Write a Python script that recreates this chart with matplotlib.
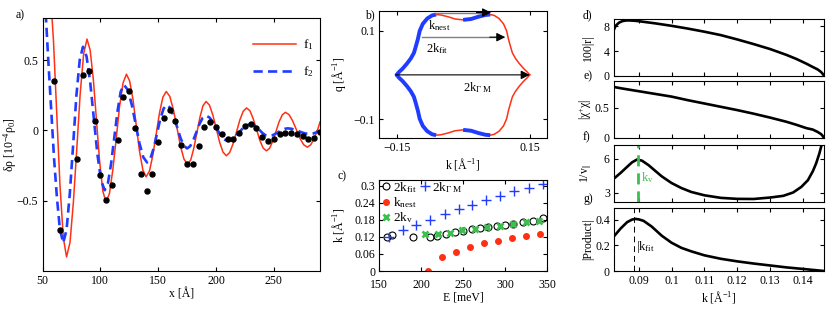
import matplotlib
matplotlib.use('Agg')
import matplotlib.pyplot as plt
from matplotlib.lines import Line2D

plt.rcParams['font.family'] = ['Liberation Serif', 'DejaVu Serif']
plt.rcParams['mathtext.fontset'] = 'custom'
plt.rcParams['mathtext.rm'] = 'Liberation Serif'
plt.rcParams['mathtext.it'] = 'Liberation Serif:italic'
plt.rcParams['font.size'] = 8.5
plt.rcParams['xtick.direction'] = 'in'
plt.rcParams['ytick.direction'] = 'in'
plt.rcParams['xtick.top'] = True
plt.rcParams['ytick.right'] = True
plt.rcParams['xtick.major.size'] = 3
plt.rcParams['ytick.major.size'] = 3
plt.rcParams['xtick.major.pad'] = 3
plt.rcParams['ytick.major.pad'] = 3
plt.rcParams['axes.linewidth'] = 0.8

RED = '#ff3014'
BLUE = '#1f3cff'
GREEN = '#3cbf4f'

# ---- a) density oscillations
red_x = [50.0, 53.8, 56.6, 59.5, 62.3, 65.1, 68.0,
         70.8, 73.8, 76.7, 79.7, 82.6, 85.6,
         88.5, 91.2, 94.0, 96.7, 99.4, 102.2,
         104.9, 107.9, 110.8, 113.8, 116.7, 119.7,
         122.6, 125.4, 128.3, 131.1, 133.9, 136.8,
         139.6, 142.5, 145.4, 148.3, 151.2, 154.1,
         157.0, 160.1, 163.2, 166.3, 169.3, 172.4,
         175.5, 178.2, 180.8, 183.5, 186.2, 188.8,
         191.5, 194.4, 197.3, 200.3, 203.2, 206.1,
         209.0, 211.9, 214.8, 217.8, 220.7, 223.6,
         226.5, 229.4, 232.2, 235.1, 237.9, 240.8,
         243.6, 246.4, 249.1, 251.9, 254.6, 257.4,
         260.1, 263.3, 266.4, 269.6, 272.7, 275.9,
         279.0, 282.0, 285.0, 288.0, 290.0]
red_y = [0.90, 1.15, 1.013, 0.637, 0.125, -0.388, -0.763,
         -0.90, -0.796, -0.512, -0.125, 0.263, 0.546,
         0.65, 0.572, 0.36, 0.07, -0.22, -0.432,
         -0.51, -0.449, -0.282, -0.055, 0.173, 0.339,
         0.40, 0.351, 0.218, 0.035, -0.148, -0.281,
         -0.33, -0.289, -0.178, -0.027, 0.125, 0.236,
         0.277, 0.242, 0.148, 0.019, -0.111, -0.205,
         -0.24, -0.21, -0.129, -0.017, 0.095, 0.176,
         0.206, 0.18, 0.11, 0.013, -0.084, -0.154,
         -0.18, -0.157, -0.095, -0.01, 0.075, 0.137,
         0.16, 0.14, 0.084, 0.008, -0.069, -0.125,
         -0.145, -0.127, -0.077, -0.008, 0.061, 0.111,
         0.129, 0.112, 0.067, 0.005, -0.057, -0.102,
         -0.119, -0.102, -0.056, 0.006, 0.06]
blue_x = [50.0, 53.0, 55.0, 57.5, 60.0, 62.5, 65.0,
          67.9, 70.8, 73.6, 76.5, 79.3, 82.2,
          85.0, 88.1, 91.3, 94.4, 97.5, 100.7,
          103.8, 106.6, 109.3, 112.1, 114.9, 117.6,
          120.4, 123.8, 127.1, 130.5, 133.8, 137.2,
          140.5, 143.3, 146.2, 149.0, 151.8, 154.7,
          157.5, 160.4, 163.3, 166.3, 169.2, 172.1,
          175.0, 177.7, 180.4, 183.1, 185.8, 188.5,
          191.2, 194.3, 197.5, 200.6, 203.7, 206.9,
          210.0, 213.3, 216.6, 219.9, 223.2, 226.5,
          229.8, 232.4, 235.0, 237.7, 240.3, 242.9,
          245.5, 248.3, 251.0, 253.8, 256.5, 259.3,
          262.0, 265.2, 268.3, 271.5, 274.7, 277.8,
          281.0, 284.0, 287.0, 290.0]
blue_y = [0.95, 0.80, 0.50, 0.15, -0.20, -0.48, -0.70,
          -0.80, -0.707, -0.451, -0.103, 0.246, 0.502,
          0.595, 0.527, 0.34, 0.085, -0.17, -0.357,
          -0.425, -0.375, -0.238, -0.05, 0.138, 0.275,
          0.325, 0.288, 0.187, 0.049, -0.09, -0.191,
          -0.228, -0.2, -0.126, -0.023, 0.08, 0.155,
          0.182, 0.161, 0.105, 0.027, -0.05, -0.107,
          -0.128, -0.112, -0.07, -0.012, 0.047, 0.089,
          0.105, 0.093, 0.06, 0.015, -0.03, -0.063,
          -0.075, -0.067, -0.045, -0.015, 0.015, 0.037,
          0.045, 0.039, 0.024, 0.003, -0.019, -0.034,
          -0.04, -0.036, -0.026, -0.013, 0.001, 0.011,
          0.015, 0.012, 0.005, -0.005, -0.015, -0.022,
          -0.025, -0.022, -0.013, -0.003]
dot_x = [60, 65, 80, 85, 90, 95, 100, 105, 110, 115, 120, 125, 130, 135,
         140, 145, 150, 155, 160, 165, 170, 175, 180, 185, 190, 195, 200,
         205, 210, 215, 220, 225, 230, 235, 240, 245, 250, 255, 260, 265,
         270, 275, 280, 285, 290]
dot_y = [0.349, -0.707, -0.2, 0.396, 0.424, 0.069, -0.315, -0.498, -0.391,
         -0.071, 0.237, 0.282, 0.017, -0.308, -0.434, -0.308, -0.081, 0.092,
         0.145, 0.064, -0.107, -0.242, -0.242, -0.112, 0.021, 0.06, 0.028,
         -0.026, -0.059, -0.059, -0.019, 0.033, 0.048, 0.017, -0.05, -0.078,
         -0.059, -0.023, -0.019, -0.019, -0.023, -0.038, -0.059, -0.055, -0.012]

# ---- b) Fermi contour, first quadrant (k, q) in 1/A
fs_k = [0.150, 0.144, 0.137, 0.127, 0.118, 0.111, 0.107, 0.102, 0.098,
        0.091, 0.081, 0.070, 0.061, 0.050, 0.034, 0.018, 0.0]
fs_q = [0.0, 0.007, 0.0135, 0.025, 0.037, 0.0495, 0.063, 0.081, 0.099,
        0.115, 0.127, 0.134, 0.136, 0.135, 0.131, 0.126, 0.124]
corner = 12  # index of the rounded corner between side and flat edge

# ---- c) wave vectors vs energy
E_fit = [159, 165, 190, 210, 219, 229, 240, 250, 260, 270, 280, 290, 300,
         310, 321, 333, 345]
k_fit = [0.12, 0.125, 0.12, 0.118, 0.122, 0.13, 0.137, 0.142, 0.146, 0.151,
         0.155, 0.16, 0.163, 0.167, 0.171, 0.176, 0.185]
E_nest = [208, 225, 241.5, 258, 275, 291.5, 308, 325, 342]
k_nest = [0.0, 0.048, 0.068, 0.083, 0.097, 0.105, 0.115, 0.122, 0.13]
E_v = [204, 220, 234, 249, 264, 279, 294, 309, 325, 340]
k_v = [0.13, 0.13, 0.135, 0.143, 0.148, 0.153, 0.16, 0.165, 0.172, 0.177]
E_gm = [161, 178, 194, 211, 228, 245, 261, 277, 294, 311, 328, 345]
k_gm = [0.12, 0.145, 0.163, 0.18, 0.20, 0.217, 0.233, 0.25, 0.265, 0.28,
        0.293, 0.305]

# ---- d)-g) quantities vs k
k_d = [0.0825, 0.0830, 0.0840, 0.0850, 0.0860, 0.0870, 0.0885, 0.090, 0.095,
       0.100, 0.105, 0.110, 0.115, 0.120, 0.125, 0.130, 0.135, 0.138, 0.141,
       0.143, 0.1445, 0.1455, 0.1460, 0.1464]
r_d = [7.5, 8.1, 8.6, 8.85, 8.95, 8.97, 8.93, 8.85, 8.5, 8.1, 7.65, 7.15, 6.6,
       5.9, 5.15, 4.35, 3.4, 2.75, 2.0, 1.45, 1.05, 0.65, 0.35, 0.05]
k_e = [0.0825, 0.085, 0.090, 0.095, 0.100, 0.105, 0.110, 0.115, 0.120, 0.125,
       0.130, 0.135, 0.138, 0.141, 0.143, 0.1445, 0.1455, 0.146, 0.1464]
chi_e = [0.85, 0.825, 0.78, 0.735, 0.69, 0.63, 0.575, 0.52, 0.465, 0.405,
         0.34, 0.27, 0.22, 0.165, 0.14, 0.10, 0.065, 0.035, 0.0]
k_f = [0.0825, 0.0845, 0.0865, 0.088, 0.0895, 0.091, 0.093, 0.095, 0.097,
       0.100, 0.103, 0.106, 0.110, 0.115, 0.120, 0.125, 0.130, 0.134, 0.137,
       0.1395, 0.1415, 0.143, 0.144, 0.145, 0.1458]
inv_v = [4.25, 4.75, 5.3, 5.7, 5.95, 5.85, 5.45, 4.95, 4.45, 3.85, 3.4, 3.05,
         2.75, 2.52, 2.43, 2.42, 2.55, 2.7, 3.0, 3.5, 4.1, 4.9, 5.6, 6.5, 7.4]
k_g = [0.0825, 0.0845, 0.0865, 0.088, 0.089, 0.090, 0.0915, 0.094, 0.097,
       0.100, 0.103, 0.106, 0.110, 0.115, 0.120, 0.125, 0.130, 0.135, 0.140,
       0.1464]
prod_g = [0.27, 0.33, 0.38, 0.40, 0.405, 0.402, 0.39, 0.345, 0.275, 0.22, 0.18,
          0.153, 0.122, 0.095, 0.075, 0.058, 0.043, 0.028, 0.016, 0.0]
kv_line = 0.0899
kfit_line = 0.0887

W, H = 830, 312
fig = plt.figure(figsize=(W / 100, H / 100), dpi=100)


def box(l, t, r, b):
    return fig.add_axes([l / W, 1 - b / H, (r - l) / W, (b - t) / H])


# a)
ax = box(42.5, 18, 320, 271)
ax.plot(red_x, red_y, color=RED, lw=1.1, label='f$_1$')
ax.plot(blue_x, blue_y, color=BLUE, lw=1.9, dashes=(3.5, 2), label='f$_2$')
ax.plot(dot_x, dot_y, 'o', color='k', ms=3.6)
ax.set_xlim(50, 290)
ax.set_ylim(-1.0, 0.8)
ax.set_xticks([50, 100, 150, 200, 250])
ax.set_yticks([-0.5, 0, 0.5])
ax.set_yticklabels(['\u22120.5', '0', '0.5'])
ax.set_xlabel('x [Å]', labelpad=1)
ax.set_ylabel('δρ [10$^{-4}$ρ$_0$]')
ax.yaxis.set_label_coords(-0.083, 0.5)
ax.legend(loc='upper right', bbox_to_anchor=(1.02, 0.97), frameon=False,
          handlelength=3.3, handletextpad=0.5, labelspacing=0.9, fontsize=9.5)
fig.text(16 / W, 1 - 15 / H, 'a)', va='center')

# b)
ax = box(379.3, 11, 547, 138.3)
quad_k = fs_k + [-k for k in fs_k[::-1]]
quad_q = fs_q + fs_q[::-1]
ring_k = quad_k + quad_k[::-1]
ring_q = quad_q + [-q for q in quad_q[::-1]]
ax.plot(ring_k, ring_q, color=RED, lw=1.1)
# thick blue parts: whole left side, right halves of the flat edges
left_k = [-fs_k[i] for i in range(corner, -1, -1)] + \
         [-fs_k[i] for i in range(1, corner + 1)]
left_q = [fs_q[i] for i in range(corner, -1, -1)] + \
         [-fs_q[i] for i in range(1, corner + 1)]
ax.plot(left_k, left_q, color=BLUE, lw=2.8, solid_capstyle='butt')
ax.plot(fs_k[corner:], fs_q[corner:], color=BLUE, lw=2.8,
        solid_capstyle='butt')
ax.plot(fs_k[corner:], [-q for q in fs_q[corner:]], color=BLUE, lw=2.8,
        solid_capstyle='butt')
# arrows
arr = dict(arrowstyle='-|>', color='k', lw=0.8, mutation_scale=13,
           shrinkA=0, shrinkB=0)
ax.plot([-0.063, 0.045], [0.1405, 0.1405], color='0.5', lw=1.0)
ax.annotate('', xy=(0.063, 0.1405), xytext=(0.03, 0.1405), arrowprops=arr)
ax.plot([-0.093, 0.077], [0.085, 0.085], color='0.5', lw=1.0)
ax.annotate('', xy=(0.095, 0.085), xytext=(0.06, 0.085), arrowprops=arr)
ax.annotate('', xy=(0.150, 0.0), xytext=(-0.152, 0.0), arrowprops=arr)
ax.text(-0.079, 0.112, 'k$_{\\mathrm{nest}}$', va='center', ha='left', fontsize=9)
ax.text(-0.083, 0.060, '2k$_{\\mathrm{fit}}$', va='center', ha='left', fontsize=9)
ax.text(-0.001, -0.029, '2k$_{\\mathrm{Γ\\ M}}$', va='center', ha='left', fontsize=9)
ax.set_xlim(-0.189, 0.189)
ax.set_ylim(-0.143, 0.144)
ax.set_xticks([-0.15, 0.15])
ax.set_xticklabels(['\u22120.15', '0.15'])
ax.set_yticks([-0.1, 0.1])
ax.set_yticklabels(['\u22120.1', '0.1'])
ax.set_xlabel('k [Å$^{-1}$]', labelpad=1)
ax.set_ylabel('q [Å$^{-1}$]')
ax.yaxis.set_label_coords(-0.187, 0.5)
fig.text(365 / W, 1 - 15 / H, 'b)', va='center')

# c)
ax = box(379.3, 180, 547, 271)
ax.plot(E_fit, k_fit, 'o', mfc='none', mec='k', ms=5, mew=0.8,
        label='2k$_{\\mathrm{fit}}$')
ax.plot(E_nest, k_nest, 'o', color=RED, ms=4, label='k$_{\\mathrm{nest}}$')
ax.plot(E_v, k_v, 'x', color=GREEN, ms=5, mew=2.0, label='2k$_{\\mathrm{v}}$')
ax.plot(E_gm, k_gm, '+', color=BLUE, ms=7, mew=1.0,
        label='2k$_{\\mathrm{Γ\\ M}}$')
h, l = ax.get_legend_handles_labels()
blank = Line2D([], [], color='none')
ax.legend([h[0], h[1], h[2], h[3], blank, blank],
          [l[0], l[1], l[2], l[3], '', ''], ncol=2, loc='upper left',
          bbox_to_anchor=(-0.03, 1.09), frameon=False, handlelength=0.6,
          handletextpad=0.25, columnspacing=0.3, labelspacing=0.05,
          borderpad=0.1, fontsize=9.5)
ax.set_xlim(150, 350)
ax.set_ylim(0, 0.32)
ax.set_xticks([150, 200, 250, 300, 350])
ax.set_yticks([0, 0.06, 0.12, 0.18, 0.24, 0.3])
ax.set_yticklabels(['0', '0.06', '0.12', '0.18', '0.24', '0.3'])
ax.tick_params(axis='x', pad=6)
ax.set_xlabel('E [meV]', labelpad=0)
ax.set_ylabel('k [Å$^{-1}$]')
ax.yaxis.set_label_coords(-0.2, 0.5)
fig.text(337 / W, 1 - 176 / H, 'c)', va='center')

# d) - g)
kticks = [0.09, 0.10, 0.11, 0.12, 0.13, 0.14]
rows = [(19, 76), (81, 138), (145, 202), (208, 271)]
axd = box(614, rows[0][0], 824, rows[0][1])
axe = box(614, rows[1][0], 824, rows[1][1])
axf = box(614, rows[2][0], 824, rows[2][1])
axg = box(614, rows[3][0], 824, rows[3][1])
axd.plot(k_d, r_d, color='k', lw=1.9)
axd.set_ylim(0, 9.2)
axd.set_yticks([0, 4, 8])
axd.set_ylabel('100|r|')
axe.plot(k_e, chi_e, color='k', lw=1.9)
axe.set_ylim(0, 0.95)
axe.set_yticks([0, 0.5])
axe.set_yticklabels(['0', '0.5'])
axe.set_ylabel('|χ$^{+}$χ|')
axf.plot(k_f, inv_v, color='k', lw=1.9)
axf.axvline(kv_line, color=GREEN, lw=2.0, dashes=(4, 2.5))
axf.text(kv_line + 0.0007, 4.3, 'k$_{\\mathrm{v}}$', color=GREEN, va='center',
         fontsize=9)
axf.set_ylim(2.15, 7.25)
axf.set_yticks([3, 6])
axf.set_ylabel('1/v$_{||}$')
axg.plot(k_g, prod_g, color='k', lw=1.9)
axg.axvline(kfit_line, color='k', lw=0.7, dashes=(6, 4))
axg.text(kfit_line + 0.0005, 0.19, '|k$_{\\mathrm{fit}}$', va='center',
         fontsize=9)
axg.set_ylim(0, 0.49)
axg.set_yticks([0, 0.2, 0.4])
axg.set_yticklabels(['0', '0.2', '0.4'])
axg.set_ylabel('|Product|')
axg.set_xlabel('k [Å$^{-1}$]', labelpad=1)
for a in (axd, axe, axf, axg):
    a.set_xlim(0.0825, 0.1464)
    a.set_xticks(kticks)
    a.yaxis.set_label_coords(-0.095, 0.5)
    if a is not axg:
        a.set_xticklabels([])
axg.set_xticklabels(['0.09', '0.1', '0.11', '0.12', '0.13', '0.14'])
for lab, y in zip(['d)', 'e)', 'f)', 'g)'], [15, 76, 137, 199]):
    fig.text(583 / W, 1 - y / H, lab, va='center')

fig.savefig('out.png', dpi=100)
